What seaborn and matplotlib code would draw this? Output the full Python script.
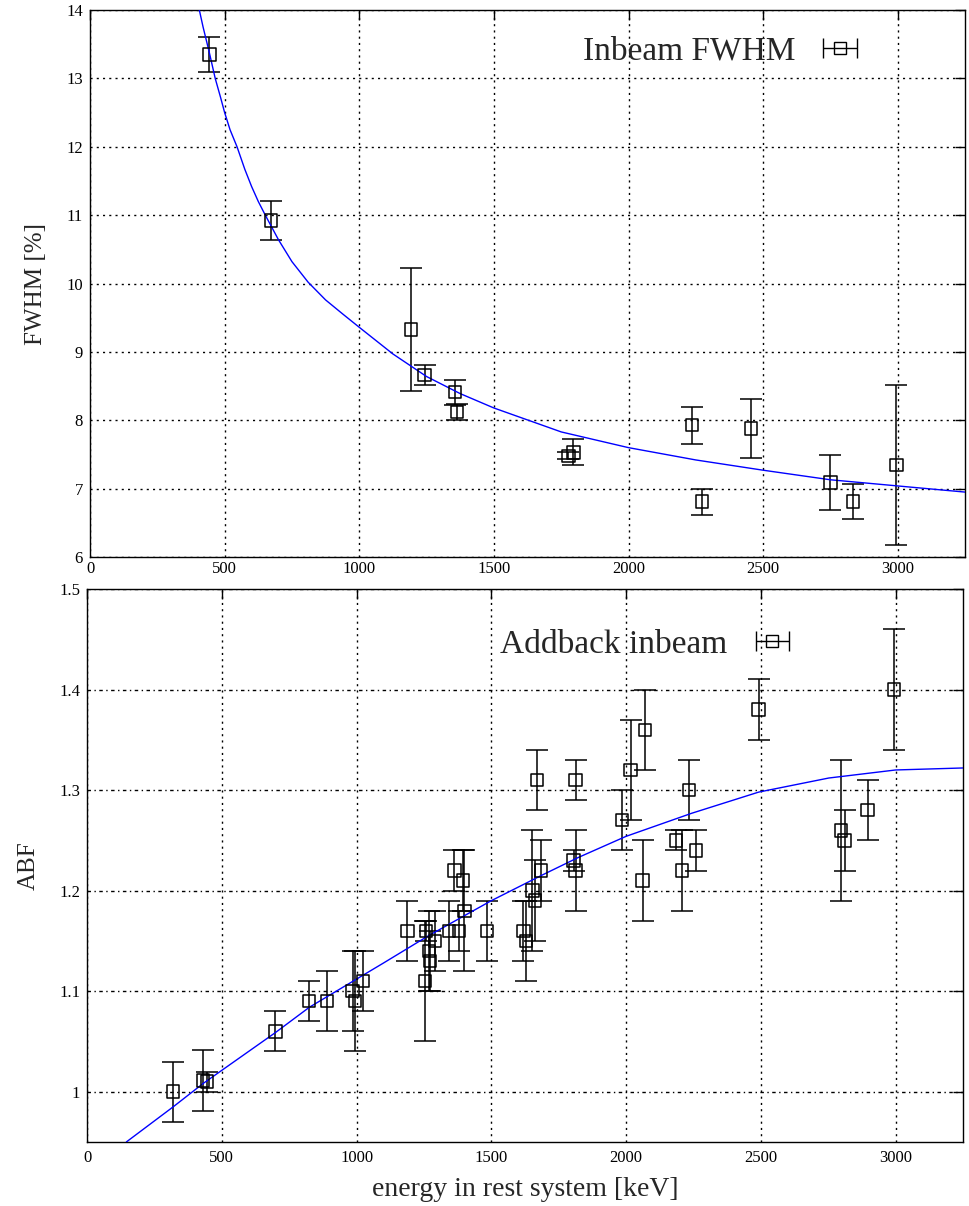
import numpy as np
import pandas as pd
import matplotlib
matplotlib.use("Agg")
import matplotlib.pyplot as plt
import seaborn as sns

# Datos: FWHM inbeam
fwhm_e = [443, 673, 1193, 1243, 1355, 1363, 1777, 1795, 2235, 2272, 2456, 2750, 2834, 2995]
fwhm_val = [13.35, 10.92, 9.33, 8.66, 8.41, 8.12, 7.48, 7.53, 7.93, 6.81, 7.88, 7.09, 6.81, 7.35]
fwhm_err = [0.25, 0.28, 0.90, 0.15, 0.18, 0.12, 0.05, 0.19, 0.27, 0.19, 0.43, 0.40, 0.26, 1.17]

# curva de ajuste
fit_fwhm_e = [406, 420, 443, 465, 485, 500, 520, 546, 575, 600, 625, 651, 700, 750, 810,
              875, 940, 1000, 1125, 1250, 1375, 1500, 1750, 2000, 2250, 2500, 2750,
              3000, 3250]
fit_fwhm = [14.0, 13.75, 13.38, 13.0, 12.72, 12.5, 12.25, 12.0, 11.67, 11.42, 11.2, 11.0,
            10.64, 10.32, 10.02, 9.76, 9.55, 9.36, 8.97, 8.64, 8.39, 8.18, 7.83, 7.60, 7.42,
            7.27, 7.13, 7.04, 6.95]

# Datos: ABF addback inbeam
abf_e = [319, 431, 445, 699, 824, 891, 985, 995, 1025, 1189, 1253, 1257, 1268, 1273,
         1290, 1344, 1363, 1381, 1396, 1400, 1483, 1619, 1628, 1652, 1662, 1669, 1684,
         1805, 1813, 1813, 1984, 2017, 2061, 2071, 2185, 2207, 2234, 2259, 2492, 2798,
         2811, 2896, 2993]
abf_val = [1.00, 1.011, 1.01, 1.06, 1.09, 1.09, 1.10, 1.09, 1.11, 1.16, 1.11, 1.16, 1.14, 1.13,
           1.15, 1.16, 1.22, 1.16, 1.21, 1.18, 1.16, 1.16, 1.15, 1.20, 1.19, 1.31, 1.22,
           1.23, 1.31, 1.22, 1.27, 1.32, 1.21, 1.36, 1.25, 1.22, 1.30, 1.24, 1.38, 1.26,
           1.25, 1.28, 1.40]
abf_err = [0.03, 0.03, 0.01, 0.02, 0.02, 0.03, 0.04, 0.05, 0.03, 0.03, 0.06, 0.01, 0.04, 0.03,
           0.03, 0.03, 0.02, 0.02, 0.03, 0.06, 0.03, 0.03, 0.04, 0.06, 0.04, 0.03, 0.03,
           0.01, 0.02, 0.04, 0.03, 0.05, 0.04, 0.04, 0.01, 0.04, 0.03, 0.02, 0.03, 0.07,
           0.03, 0.03, 0.06]

fit_abf_e = [146, 320, 430, 700, 825, 1000, 1100, 1266, 1500, 1685, 1823, 2000, 2244,
             2492, 2752, 3000, 3250]
fit_abf = [0.95, 0.985, 1.008, 1.059, 1.084, 1.112, 1.128, 1.155, 1.190, 1.215, 1.233, 1.254,
           1.277, 1.298, 1.312, 1.320, 1.322]

x_ticks = [0, 500, 1000, 1500, 2000, 2500, 3000]
fwhm_ticks = [6, 7, 8, 9, 10, 11, 12, 13, 14]
abf_ticks = [1.0, 1.1, 1.2, 1.3, 1.4, 1.5]

df_fwhm = pd.DataFrame({"E": fwhm_e, "FWHM": fwhm_val, "err": fwhm_err})
df_fit_fwhm = pd.DataFrame({"E": fit_fwhm_e, "FWHM": fit_fwhm})
df_abf = pd.DataFrame({"E": abf_e, "ABF": abf_val, "err": abf_err})
df_fit_abf = pd.DataFrame({"E": fit_abf_e, "ABF": fit_abf})

sns.set_theme(style="white")
plt.rcParams["font.family"] = ["Liberation Serif", "DejaVu Serif"]

fig = plt.figure(figsize=(9.7, 12.06), dpi=100)
ax1 = fig.add_axes([0.0928, 0.5381, 0.9021, 0.4536])
ax2 = fig.add_axes([0.0897, 0.0531, 0.9031, 0.4585])

dotted = (0, (1.5, 3))
dashdot = (0, (2.5, 2.5, 1, 2.5))


def estilo_ejes(ax, hgrid, xpad):
    for s in ax.spines.values():
        s.set_color("black")
        s.set_linewidth(1.0)
    ax.tick_params(direction="in", length=7, width=1, colors="black",
                   top=True, right=True, labelsize=12, pad=5)
    ax.tick_params(axis="x", pad=xpad)
    ax.set_axisbelow(False)
    ax.xaxis.grid(True, color="black", linestyle=dotted, linewidth=1.0)
    ax.yaxis.grid(True, color="black", linestyle=hgrid, linewidth=1.0)


def legend_proxy(ax, label, anchor):
    proxy = ax.errorbar([np.nan], [np.nan], xerr=[np.nan], fmt="s", mfc="none",
                        mec="black", ms=8, mew=1, ecolor="black", elinewidth=1,
                        capsize=7, capthick=1)
    ax.legend([proxy], [label], loc="center right", bbox_to_anchor=anchor,
              frameon=False, markerfirst=False, fontsize=24, handlelength=1.3,
              handletextpad=0.7, borderpad=0, borderaxespad=0)


# ---------------- panel superior: FWHM ----------------
ax1.errorbar(df_fwhm["E"], df_fwhm["FWHM"], yerr=df_fwhm["err"], fmt="none",
             ecolor="black", elinewidth=1.1, capsize=8, capthick=1.1, zorder=3)
sns.lineplot(data=df_fit_fwhm, x="E", y="FWHM", ax=ax1, color="#0000ff",
             linewidth=1.0, zorder=4)
sns.scatterplot(data=df_fwhm, x="E", y="FWHM", ax=ax1, marker="s", s=80,
                facecolor="none", edgecolor="black", linewidth=1.1, zorder=5)
ax1.set_xlim(0, 3250)
ax1.set_ylim(6, 14)
ax1.set_xticks(x_ticks)
ax1.set_yticks(fwhm_ticks)
ax1.set_xlabel("")
ax1.set_ylabel("FWHM [%]", fontsize=18, labelpad=14)
estilo_ejes(ax1, dotted, 3)
legend_proxy(ax1, "Inbeam FWHM", (0.882, 0.925))

# ---------------- panel inferior: ABF ----------------
ax2.errorbar(df_abf["E"], df_abf["ABF"], yerr=df_abf["err"], fmt="none",
             ecolor="black", elinewidth=1.1, capsize=8, capthick=1.1, zorder=3)
sns.lineplot(data=df_fit_abf, x="E", y="ABF", ax=ax2, color="#0000ff",
             linewidth=1.0, zorder=4)
sns.scatterplot(data=df_abf, x="E", y="ABF", ax=ax2, marker="s", s=80,
                facecolor="none", edgecolor="black", linewidth=1.1, zorder=5)
ax2.set_xlim(0, 3250)
ax2.set_ylim(0.95, 1.5)
ax2.set_xticks(x_ticks)
ax2.set_yticks(abf_ticks)
ax2.yaxis.set_major_formatter(matplotlib.ticker.FormatStrFormatter("%g"))
ax2.set_xlabel("energy in rest system [keV]", fontsize=20, labelpad=8)
ax2.set_ylabel("ABF", fontsize=18, labelpad=14)
estilo_ejes(ax2, dashdot, 6)
legend_proxy(ax2, "Addback inbeam", (0.807, 0.9))

fig.savefig("out.png", dpi=100)
